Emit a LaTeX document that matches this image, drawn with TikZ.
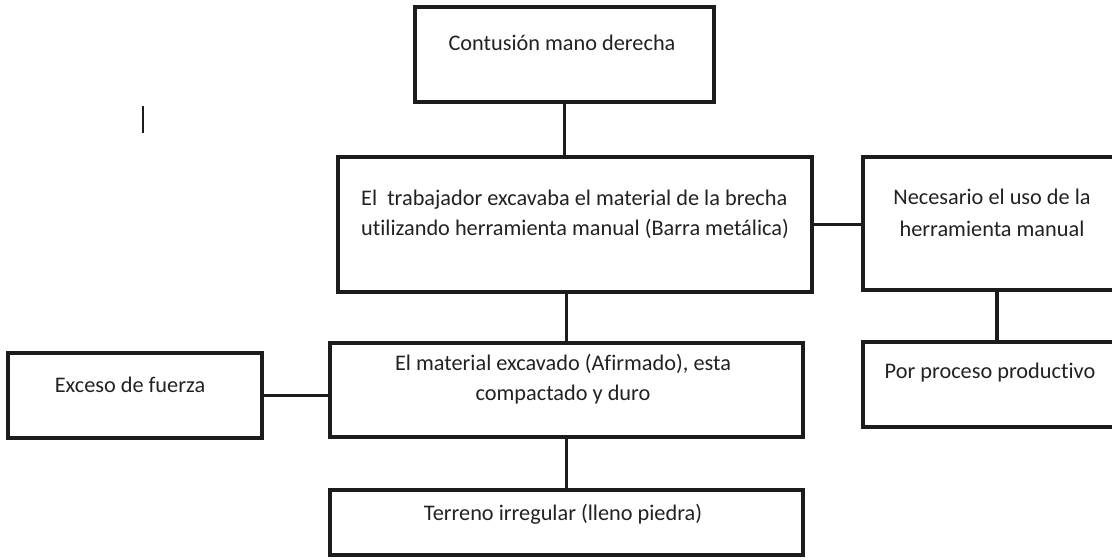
\documentclass[tikz,border=0pt]{standalone}
\usepackage{fontspec}
\setmainfont{Carlito}[Ligatures=NoCommon]
\definecolor{edge}{HTML}{1C1C1C}
\definecolor{ink}{HTML}{222222}
\tikzset{
  boxnode/.style={draw=edge, line width=3.8pt, rectangle, inner sep=0pt, fill=white},
  link/.style={draw=edge, line width=3.4pt},
  lbl/.style={text=ink, inner sep=0pt, font=\fontsize{22.3}{31}\selectfont},
}
\begin{document}
\begin{tikzpicture}[x=1pt,y=-1pt]
\useasboundingbox (0,0) rectangle (1112,560);
% boxes
\node[boxnode, minimum width=299pt, minimum height=95pt] (b1) at (564.5,54.5) {};
\node[boxnode, minimum width=474pt, minimum height=135pt] (b2) at (575,224.5) {};
\node[boxnode, minimum width=268pt, minimum height=133pt] (bn) at (997,223.5) {};
\node[boxnode, minimum width=268pt, minimum height=85pt] (bp) at (997,384.5) {};
\node[boxnode, minimum width=254pt, minimum height=85pt] (be) at (135,395.5) {};
\node[boxnode, minimum width=473pt, minimum height=94pt] (bm) at (566.5,390) {};
\node[boxnode, minimum width=473pt, minimum height=65pt] (bt) at (566.5,522.5) {};
% connectors
\draw[link] (b1.south) -- (b1.south |- b2.north);
\draw[link] (bm.north |- b2.south) -- (bm.north);
\draw[link] (b2.east) -- (b2.east -| bn.west);
\draw[link] (bn.south) -- (bp.north);
\draw[link] (be.east) -- (be.east -| bm.west);
\draw[link] (bm.south) -- (bm.south |- bt.north);
% stray mark
\coordinate (m1) at (143,106);
\coordinate (m2) at (143,133);
\draw[draw=edge, line width=2.6pt] (m1) -- (m2);
% texts
\node[lbl, anchor=base] (t1) at (562,50) {Contusión mano derecha};
\node[lbl, anchor=base west] (t2a) at (361,205) {El\ \ trabajador excavaba el material de la brecha};
\node[lbl, anchor=base west] (t2b) at (361,235) {utilizando herramienta manual (Barra metálica)};
\node[lbl, anchor=base] (tna) at (992,204) {Necesario el uso de la};
\node[lbl, anchor=base] (tnb) at (992,236) {herramienta manual};
\node[lbl, anchor=base] (tp) at (990,378) {Por proceso productivo};
\node[lbl, anchor=base] (te) at (130,392) {Exceso de fuerza};
\node[lbl, anchor=base] (tma) at (563,370) {El material excavado (Afirmado), esta};
\node[lbl, anchor=base] (tmb) at (563,400) {compactado y duro};
\node[lbl, anchor=base] (tt) at (563,520) {Terreno irregular (lleno piedra)};
\end{tikzpicture}
\end{document}
